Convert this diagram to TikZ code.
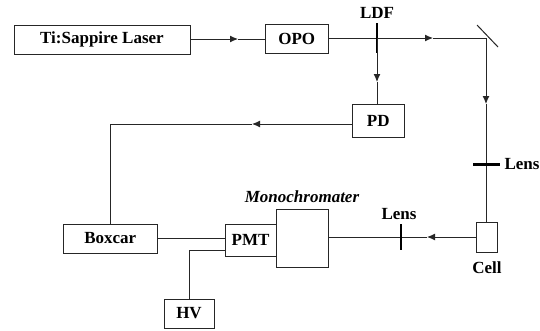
\documentclass[tikz,border=0pt]{standalone}
\usepackage{fontspec}
\setmainfont{Liberation Serif}
\usetikzlibrary{arrows.meta}
\tikzset{
  box/.style={draw=black!85,line width=1pt,inner sep=0pt,font=\bfseries\fontsize{17}{19}\selectfont},
  lbl/.style={inner sep=0pt,font=\bfseries\fontsize{17}{19}\selectfont},
  wire/.style={draw=black!85,line width=1pt},
  arr/.style={wire,-{Latex[length=8pt,width=7pt]}},
  bar/.style={draw=black,line width=2.2pt},
}
\begin{document}
\begin{tikzpicture}[x=1pt,y=-1pt]
\useasboundingbox (0,0) rectangle (540,330);
\path[fill=white] (0,0) rectangle (540,330);
\newcommand{\bx}[6]{\node[box,minimum width=#4 pt - #3 pt,minimum height=#6 pt - #5 pt] (#1) at ({(#3+#4)/2},{(#5+#6)/2}) {#2};}
\bx{ti}{Ti:Sappire Laser}{14}{190}{25}{54}
\bx{opo}{OPO}{265.5}{328}{24}{53}
\bx{pd}{PD}{352.5}{404}{104}{137}
\bx{boxcar}{Boxcar}{63}{157.5}{224}{253}
\bx{pmt}{PMT}{225}{276}{224}{256}
\bx{mono}{}{276}{328}{209}{267}
\bx{hv}{HV}{164}{214}{299}{328}
\bx{cell}{}{476}{497}{222}{252}
\coordinate (a1) at (238,39);
\coordinate (m) at (486,38);
\coordinate (a2) at (433,38);
\coordinate (ldf) at (377,38);
\coordinate (ldfT) at (377,23);
\coordinate (ldfB) at (377,53);
\coordinate (a3) at (377,82);
\coordinate (mA) at (477,25);
\coordinate (mB) at (498,47);
\coordinate (a4) at (486,104);
\coordinate (l1) at (486,164.5);
\coordinate (l1L) at (473,164.5);
\coordinate (l1R) at (500,164.5);
\coordinate (a5) at (427,237);
\coordinate (l2) at (401,237);
\coordinate (l2T) at (401,224);
\coordinate (l2B) at (401,250);
\coordinate (a6) at (252,124);
\coordinate (c1) at (110,124);
\coordinate (c2) at (189,250.5);
\draw[arr] (ti.east |- a1) -- (a1);
\draw[wire] (a1) -- (opo.west |- a1);
\draw[arr] (opo.east |- a2) -- (a2);
\draw[wire] (a2) -- (m);
\draw[bar] (ldfT) -- (ldfB);
\draw[wire] (mA) -- (mB);
\draw[arr] (ldf) -- (a3);
\draw[wire] (a3) -- (pd.north -| a3);
\draw[arr] (m) -- (a4);
\draw[wire] (a4) -- (a4 |- cell.north);
\draw[bar] (l1L) -- (l1R);
\draw[arr] (cell.west |- a5) -- (a5);
\draw[wire] (a5) -- (mono.east |- a5);
\draw[bar] (l2T) -- (l2B);
\draw[arr] (pd.west |- a6) -- (a6);
\draw[wire] (a6) -- (c1) -- (c1 |- boxcar.north);
\draw[wire] (boxcar.east |- 0,238) -- (pmt.west |- 0,238);
\draw[wire] (hv.north -| c2) -- (c2) -- (pmt.west |- c2);
\node[lbl] (tldf) at (377,13) {LDF};
\node[lbl] (tlens1) at (522,164) {Lens};
\node[lbl] (tlens2) at (399,214) {Lens};
\node[lbl] (tcell) at (487,268) {Cell};
\node[lbl,font=\bfseries\itshape\fontsize{17}{19}\selectfont] (tmono) at (302,197) {Monochromater};
\end{tikzpicture}
\end{document}
